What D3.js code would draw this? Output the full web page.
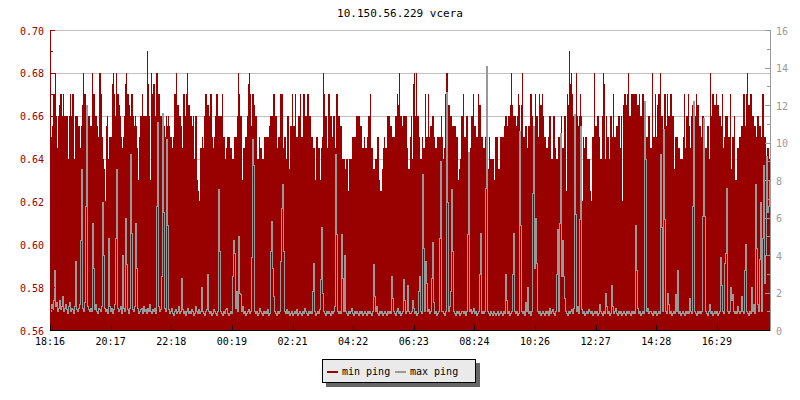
<!DOCTYPE html>
<html><head><meta charset="utf-8">
<script src="https://cdn.jsdelivr.net/npm/d3@7"></script>
<style>
body{margin:0;background:#fff}
svg text{font-family:"DejaVu Sans Mono",monospace;font-size:10px}
</style>
</head><body>
<svg id="chart" width="800" height="400"></svg>
<script>
// ---------------- data ----------------
const chartTitle = "10.150.56.229 vcera";
const seriesNames = ["min ping", "max ping"];
const startHour = 18, startMinute = 16;      // first sample time
const stepMinutes = 2;                        // minutes between samples
const spanMinutes = 1440;                     // width of x axis (minutes)
const xTickLabels = ["18:16","20:17","22:18","00:19","02:21","04:22","06:23","08:24","10:26","12:27","14:28","16:29"];
const xTickOffsets = [0,121.25,242.5,363.75,485,606.25,727.5,848.75,970,1091.25,1212.5,1333.75]; // minutes after start
const leftTicks = [0.56,0.58,0.60,0.62,0.64,0.66,0.68,0.70];
const leftMinorTicks = [0.57,0.59,0.61,0.63,0.65,0.67,0.69];
const rightTicks = [0,2,4,6,8,10,12,14,16];
const rightMinorTicks = [1,3,5,7,9,11,13,15];

// min ping (left axis), one value per 2 minutes
const minPing = [
0.65,0.65,0.655,0.67,0.67,0.68,0.66,0.645,0.66,0.665,0.67,0.67,0.66,0.67,0.66,0.66,0.66,0.66,0.64,0.66,
0.67,0.66,0.67,0.67,0.64,0.66,0.66,0.66,0.655,0.655,0.645,0.655,0.665,0.68,0.67,0.67,0.66,0.66,0.66,0.66,
0.655,0.655,0.68,0.67,0.67,0.66,0.66,0.655,0.65,0.68,0.68,0.67,0.65,0.64,0.635,0.62,0.655,0.66,0.64,0.65,
0.65,0.65,0.675,0.68,0.67,0.66,0.68,0.67,0.67,0.665,0.66,0.65,0.645,0.65,0.66,0.675,0.68,0.67,0.67,0.665,
0.66,0.67,0.67,0.66,0.655,0.66,0.655,0.645,0.63,0.65,0.66,0.66,0.67,0.66,0.66,0.66,0.66,0.69,0.675,0.66,
0.63,0.68,0.67,0.675,0.675,0.66,0.68,0.68,0.67,0.67,0.66,0.66,0.66,0.655,0.655,0.65,0.66,0.655,0.66,0.655,
0.65,0.65,0.645,0.65,0.67,0.67,0.68,0.665,0.665,0.66,0.66,0.655,0.645,0.67,0.67,0.66,0.67,0.68,0.665,0.665,
0.66,0.66,0.655,0.66,0.64,0.66,0.66,0.63,0.625,0.62,0.645,0.645,0.65,0.645,0.66,0.67,0.67,0.665,0.665,0.66,
0.67,0.67,0.65,0.645,0.65,0.66,0.67,0.67,0.66,0.66,0.66,0.66,0.67,0.65,0.65,0.64,0.645,0.65,0.65,0.65,
0.645,0.645,0.64,0.64,0.65,0.65,0.65,0.66,0.68,0.67,0.66,0.66,0.63,0.645,0.645,0.65,0.65,0.66,0.675,0.68,
0.67,0.655,0.67,0.67,0.665,0.66,0.66,0.64,0.64,0.65,0.645,0.645,0.64,0.64,0.65,0.65,0.65,0.65,0.65,0.655,
0.66,0.66,0.66,0.67,0.67,0.66,0.66,0.645,0.65,0.65,0.67,0.67,0.67,0.645,0.65,0.65,0.64,0.66,0.66,0.635,
0.655,0.655,0.67,0.655,0.655,0.67,0.65,0.65,0.66,0.66,0.67,0.65,0.65,0.67,0.67,0.66,0.66,0.67,0.67,0.66,
0.66,0.65,0.65,0.645,0.645,0.63,0.65,0.65,0.645,0.645,0.63,0.645,0.65,0.68,0.67,0.66,0.66,0.645,0.67,0.67,
0.66,0.66,0.65,0.66,0.66,0.645,0.67,0.67,0.66,0.66,0.655,0.655,0.64,0.64,0.64,0.635,0.64,0.64,0.625,0.64,
0.64,0.64,0.65,0.65,0.65,0.65,0.66,0.66,0.66,0.66,0.655,0.655,0.645,0.645,0.65,0.645,0.645,0.65,0.66,0.66,
0.67,0.645,0.645,0.635,0.635,0.64,0.64,0.65,0.65,0.63,0.625,0.625,0.635,0.645,0.65,0.645,0.645,0.66,0.66,0.66,
0.655,0.655,0.65,0.65,0.65,0.66,0.66,0.67,0.665,0.68,0.66,0.66,0.655,0.66,0.66,0.66,0.66,0.645,0.635,0.635,
0.65,0.66,0.64,0.675,0.68,0.66,0.68,0.66,0.66,0.65,0.64,0.64,0.65,0.645,0.645,0.67,0.65,0.65,0.67,0.65,
0.655,0.655,0.66,0.66,0.65,0.645,0.645,0.65,0.65,0.65,0.65,0.66,0.65,0.64,0.645,0.67,0.68,0.68,0.665,0.665,
0.66,0.66,0.655,0.655,0.655,0.655,0.65,0.65,0.63,0.635,0.64,0.66,0.66,0.67,0.65,0.65,0.66,0.66,0.64,0.64,
0.645,0.66,0.66,0.67,0.655,0.655,0.65,0.65,0.67,0.665,0.665,0.65,0.65,0.645,0.645,0.65,0.66,0.635,0.635,0.65,
0.64,0.64,0.64,0.64,0.63,0.65,0.65,0.65,0.635,0.635,0.65,0.65,0.65,0.65,0.655,0.66,0.66,0.655,0.66,0.66,
0.665,0.68,0.665,0.66,0.66,0.66,0.655,0.66,0.67,0.665,0.63,0.665,0.68,0.65,0.65,0.655,0.655,0.645,0.655,0.655,
0.67,0.67,0.66,0.655,0.655,0.67,0.66,0.66,0.65,0.67,0.665,0.665,0.67,0.66,0.65,0.65,0.645,0.645,0.65,0.66,
0.66,0.64,0.64,0.66,0.66,0.645,0.64,0.64,0.65,0.65,0.65,0.66,0.645,0.645,0.66,0.66,0.625,0.67,0.665,0.69,
0.675,0.68,0.67,0.66,0.66,0.65,0.68,0.66,0.655,0.66,0.67,0.66,0.62,0.65,0.645,0.65,0.65,0.64,0.64,0.64,
0.625,0.62,0.65,0.65,0.68,0.655,0.655,0.66,0.66,0.65,0.64,0.64,0.66,0.68,0.675,0.64,0.66,0.65,0.65,0.64,
0.66,0.66,0.65,0.67,0.65,0.65,0.655,0.655,0.66,0.66,0.645,0.66,0.62,0.665,0.67,0.67,0.665,0.67,0.68,0.66,
0.66,0.67,0.67,0.67,0.67,0.67,0.67,0.665,0.665,0.67,0.66,0.66,0.67,0.67,0.64,0.65,0.65,0.65,0.66,0.66,
0.645,0.645,0.68,0.65,0.65,0.67,0.65,0.665,0.67,0.67,0.68,0.66,0.66,0.65,0.67,0.67,0.655,0.67,0.66,0.66,
0.67,0.67,0.66,0.66,0.635,0.65,0.65,0.65,0.645,0.645,0.64,0.64,0.64,0.65,0.67,0.645,0.66,0.66,0.67,0.655,
0.645,0.66,0.665,0.665,0.66,0.66,0.67,0.665,0.665,0.655,0.655,0.65,0.66,0.66,0.62,0.645,0.645,0.655,0.655,0.64,
0.68,0.66,0.67,0.67,0.665,0.665,0.67,0.665,0.665,0.66,0.66,0.655,0.67,0.645,0.65,0.66,0.66,0.66,0.65,0.65,
0.67,0.635,0.65,0.65,0.66,0.63,0.63,0.645,0.645,0.65,0.65,0.655,0.655,0.67,0.67,0.655,0.67,0.68,0.665,0.665,
0.67,0.67,0.66,0.66,0.655,0.655,0.65,0.66,0.66,0.655,0.655,0.65,0.67,0.67,0.65,0.65,0.64,0.645,0.645,0.64
];

// max ping (right axis), one value per 2 minutes
const maxPing = [
1.0,1.4,1.1,1.6,3.2,1.3,1.5,1.0,1.2,1.6,1.1,1.3,1.8,1.0,1.2,1.4,1.1,0.9,1.3,1.5,
1.0,1.2,1.1,0.9,1.3,3.7,1.1,1.0,1.2,1.4,4.8,8.6,1.2,1.0,1.5,6.6,12.0,1.3,1.1,1.0,
1.2,1.0,5.7,3.3,1.1,1.4,1.0,0.9,1.2,1.1,1.0,1.3,6.8,4.0,1.2,1.0,1.1,0.9,4.9,1.3,
1.0,1.2,0.9,1.1,1.4,4.9,8.6,1.2,1.0,1.1,1.3,0.9,4.0,1.2,1.0,6.0,3.5,1.1,0.9,1.2,
9.4,5.2,1.1,1.0,1.3,5.7,3.3,1.2,0.9,1.0,1.1,1.2,0.9,1.3,1.0,1.1,0.9,1.2,1.0,1.4,
1.0,0.9,1.1,1.0,1.2,0.9,6.6,11.1,1.3,1.0,1.1,2.9,11.6,6.3,1.2,1.0,10.2,5.6,1.1,0.9,
1.0,1.2,0.9,0.8,1.0,1.1,0.9,1.0,1.3,0.9,1.0,2.8,1.1,0.9,1.0,0.8,1.0,1.2,0.9,1.0,
0.9,1.1,1.0,0.8,0.9,1.3,1.0,0.9,1.1,0.9,1.0,2.3,1.0,0.9,0.8,1.0,1.1,3.0,1.0,0.9,
1.0,0.8,0.9,1.1,1.0,0.9,0.8,1.0,7.5,4.2,1.0,0.9,0.8,1.0,0.9,1.1,1.2,0.9,0.8,0.9,
1.0,0.9,2.9,4.8,4.1,1.2,2.1,1.0,5.0,2.0,1.9,1.0,1.3,0.9,1.0,0.8,0.9,1.0,1.1,0.9,
1.0,3.9,10.2,8.8,1.0,0.9,1.0,0.8,0.9,1.2,1.0,0.9,0.8,1.0,0.9,1.0,0.9,1.1,0.8,0.9,
4.2,5.8,3.3,1.8,1.0,0.9,0.8,1.0,0.9,1.0,3.7,6.5,7.8,4.2,1.0,0.9,1.1,0.9,1.0,0.8,
0.9,1.0,0.8,0.9,1.0,0.9,1.1,0.8,0.9,1.0,0.9,0.8,1.0,0.9,1.2,1.0,0.9,0.8,1.0,0.9,
1.0,0.9,2.1,3.6,1.0,0.8,0.9,1.0,0.9,1.1,2.7,5.5,2.0,1.0,0.9,0.8,1.0,0.9,1.0,0.9,
0.8,1.0,0.9,1.0,1.3,9.4,5.1,1.0,0.9,1.0,0.9,5.1,2.8,1.0,4.0,1.0,0.9,0.8,1.0,0.9,
1.0,1.2,0.9,0.8,1.0,0.9,1.0,0.9,0.8,1.0,0.9,1.0,0.8,0.9,1.0,0.9,0.8,1.0,0.9,1.0,
0.9,0.8,1.0,3.5,1.8,1.0,1.3,0.9,0.8,1.0,0.9,1.0,0.8,0.9,1.0,0.9,0.8,1.0,0.9,1.0,
0.9,2.9,1.7,1.0,0.9,0.8,1.0,1.2,0.9,1.0,0.8,0.9,1.0,2.7,1.6,0.9,1.0,2.4,1.0,0.9,
0.9,1.0,1.6,1.2,0.9,1.0,0.8,0.9,2.1,2.9,1.0,0.9,8.3,4.4,1.0,3.7,2.5,1.0,1.1,0.9,
1.0,2.8,4.7,1.5,0.9,1.0,0.8,0.9,1.0,4.9,9.0,1.0,1.0,0.9,0.8,1.0,12.7,6.8,1.0,1.3,
2.1,7.5,4.2,1.0,0.9,0.8,1.0,0.9,1.0,0.8,0.9,1.0,1.0,0.9,1.0,0.8,1.0,5.1,9.5,1.0,
1.1,0.9,1.0,1.2,0.9,1.0,0.8,0.9,1.0,3.0,5.2,0.9,1.0,0.9,1.0,7.6,14.1,1.0,0.9,0.8,
1.0,0.9,0.8,1.0,0.9,0.8,0.9,1.0,0.8,0.9,1.0,0.9,0.8,1.0,0.9,3.0,1.6,0.9,1.0,0.8,
0.9,1.0,3.0,5.2,1.0,0.9,1.0,0.8,0.9,10.6,5.6,1.0,0.9,1.0,0.8,1.5,1.0,2.3,0.9,1.0,
0.8,1.0,7.3,10.9,3.3,6.0,3.6,1.0,0.9,1.0,0.8,0.9,1.0,0.9,0.8,1.0,0.9,1.0,0.8,1.2,
0.9,1.0,1.1,0.9,0.8,1.0,3.0,5.4,1.0,5.7,10.5,2.9,4.8,2.9,1.7,1.0,0.9,0.8,1.0,0.9,
1.0,1.1,0.9,1.2,11.5,6.2,1.0,1.3,0.9,5.9,10.9,1.1,0.9,1.0,0.8,0.9,1.0,0.9,1.1,1.0,
0.9,1.0,0.8,0.9,1.0,0.9,1.0,0.8,0.9,1.4,1.0,0.9,0.8,1.0,0.9,2.0,1.3,0.9,1.0,0.8,
0.9,2.4,1.3,0.9,1.0,1.2,0.9,0.8,1.0,0.9,1.0,0.8,0.9,1.0,0.9,0.8,1.0,0.9,1.0,0.9,
0.8,1.0,0.9,1.0,0.9,5.6,3.2,1.2,0.9,1.0,0.8,0.9,1.0,0.9,12.2,9.1,1.0,1.2,0.9,1.0,
1.0,0.9,0.8,1.0,0.9,1.0,0.8,0.9,1.0,0.9,9.4,5.5,1.0,10.7,5.9,1.0,0.9,2.0,1.4,0.9,
1.0,0.8,0.9,1.0,0.9,1.9,1.0,3.2,0.9,1.0,0.8,0.9,1.0,0.9,0.8,1.0,0.9,1.0,0.9,1.7,
1.0,0.9,6.6,12.2,1.0,0.9,0.8,1.0,0.9,1.0,0.9,1.0,6.1,11.3,6.1,1.0,0.9,0.8,1.0,1.4,
0.9,1.0,0.8,0.9,1.0,0.9,1.0,0.8,0.9,1.0,3.9,2.4,1.0,0.9,3.6,4.1,7.6,1.0,0.9,1.0,
2.3,1.6,1.9,1.0,0.9,1.0,0.9,1.3,1.0,0.9,1.0,1.8,1.0,0.9,3.2,4.6,1.0,0.9,0.8,1.0,
0.9,2.3,1.0,1.4,0.9,7.8,4.4,1.4,1.0,3.8,6.8,1.0,4.9,8.8,2.5,4.0,9.3,6.3,6.6,8.0
];

// ---------------- colours ----------------
const RED = "#990000", GRAY = "#999999", GRID = "#c0c0c0";

// ---------------- layout ----------------
const L = 50, R = 770, T = 30, B = 330;
const svg = d3.select("#chart");

const t0 = new Date(2000, 0, 1, startHour, startMinute);
const tAt = m => new Date(t0.getTime() + m * 60000);
const x = d3.scaleTime().domain([t0, tAt(spanMinutes)]).range([L, R]);
const yL = d3.scaleLinear().domain([0.56, 0.70]).range([B, T]);
const yR = d3.scaleLinear().domain([0, 16]).range([B, T]);

const px = v => Math.round(v) + 0.5;

// title
svg.append("text").attr("x", 400).attr("y", 13).attr("dy", "0.35em")
  .attr("text-anchor", "middle").attr("fill", "#000").style("font-size", "11px").text(chartTitle);

// grid
svg.append("g").selectAll("line").data(leftTicks).join("line")
  .attr("x1", L).attr("x2", R)
  .attr("y1", d => px(yL(d))).attr("y2", d => px(yL(d)))
  .attr("stroke", GRID).attr("stroke-width", 1).attr("shape-rendering", "crispEdges");

// min ping area (stepped, one pixel per sample)
const minData = minPing.map((v, i) => ({t: tAt(i * stepMinutes), v}));
minData.push({t: tAt(minPing.length * stepMinutes), v: minPing[minPing.length - 1]});
svg.append("path").datum(minData)
  .attr("d", d3.area().curve(d3.curveStepAfter).x(d => x(d.t)).y0(yL(0.56)).y1(d => yL(d.v)))
  .attr("fill", RED).attr("shape-rendering", "crispEdges");

// max ping line (stepped, vertical strokes centred in pixel columns)
const maxData = maxPing.map((v, i) => ({t: tAt(i * stepMinutes), v}));
svg.append("path").datum(maxData)
  .attr("d", d3.line().curve(d3.curveStepAfter).x(d => x(d.t) + 0.5).y(d => Math.round(yR(d.v)) + 0.5))
  .attr("fill", "none").attr("stroke", GRAY).attr("stroke-width", 1)
  .attr("shape-rendering", "crispEdges");

// left axis
const gl = svg.append("g");
gl.append("line").attr("x1", L + 0.5).attr("x2", L + 0.5).attr("y1", T).attr("y2", B)
  .attr("stroke", RED).attr("shape-rendering", "crispEdges");
gl.selectAll(".maj").data(leftTicks).join("line").attr("class", "maj")
  .attr("x1", L).attr("x2", L + 5).attr("y1", d => px(yL(d))).attr("y2", d => px(yL(d)))
  .attr("stroke", RED).attr("shape-rendering", "crispEdges");
gl.selectAll(".min").data(leftMinorTicks).join("line").attr("class", "min")
  .attr("x1", L).attr("x2", L + 3).attr("y1", d => px(yL(d))).attr("y2", d => px(yL(d)))
  .attr("stroke", RED).attr("shape-rendering", "crispEdges");
gl.selectAll("text").data(leftTicks).join("text")
  .attr("x", 44).attr("y", d => yL(d) + 1).attr("dy", "0.35em").attr("text-anchor", "end")
  .attr("fill", RED).text(d => d.toFixed(2));

// right axis
const gr = svg.append("g");
gr.append("line").attr("x1", R + 0.5).attr("x2", R + 0.5).attr("y1", T).attr("y2", B + 1)
  .attr("stroke", GRAY).attr("shape-rendering", "crispEdges");
gr.selectAll(".maj").data(rightTicks).join("line").attr("class", "maj")
  .attr("x1", R - 5).attr("x2", R).attr("y1", d => px(yR(d))).attr("y2", d => px(yR(d)))
  .attr("stroke", GRAY).attr("shape-rendering", "crispEdges");
gr.selectAll(".min").data(rightMinorTicks).join("line").attr("class", "min")
  .attr("x1", R - 3).attr("x2", R).attr("y1", d => px(yR(d))).attr("y2", d => px(yR(d)))
  .attr("stroke", GRAY).attr("shape-rendering", "crispEdges");
gr.selectAll("text").data(rightTicks).join("text")
  .attr("x", 776).attr("y", d => yR(d) + 1).attr("dy", "0.35em").attr("text-anchor", "start")
  .attr("fill", GRAY).text(d => d);

// x axis
const gx = svg.append("g");
gx.append("line").attr("x1", L).attr("x2", R).attr("y1", B + 0.5).attr("y2", B + 0.5)
  .attr("stroke", "#000").attr("shape-rendering", "crispEdges");
gx.selectAll("line.tk").data(xTickOffsets).join("line").attr("class", "tk")
  .attr("x1", d => px(x(tAt(d)))).attr("x2", d => px(x(tAt(d))))
  .attr("y1", B - 5).attr("y2", B).attr("stroke", "#000").attr("shape-rendering", "crispEdges");
gx.selectAll("text").data(xTickOffsets).join("text")
  .attr("x", d => x(tAt(d))).attr("y", 341).attr("dy", "0.35em").attr("text-anchor", "middle")
  .attr("fill", "#000").text((d, i) => xTickLabels[i]);

// legend
const lg = svg.append("g");
lg.append("rect").attr("x", 326).attr("y", 363).attr("width", 154).attr("height", 24).attr("fill", "#666");
lg.append("rect").attr("x", 322.5).attr("y", 359.5).attr("width", 153).attr("height", 23)
  .attr("fill", "#eaeaea").attr("stroke", "#000").attr("shape-rendering", "crispEdges");
const items = [{name: seriesNames[0], color: RED, x: 327}, {name: seriesNames[1], color: GRAY, x: 395}];
items.forEach(it => {
  lg.append("rect").attr("x", it.x).attr("y", 371).attr("width", 11).attr("height", 2).attr("fill", it.color);
  lg.append("text").attr("x", it.x + 15).attr("y", 371).attr("dy", "0.35em").attr("fill", "#000").text(it.name);
});
</script>
</body></html>
